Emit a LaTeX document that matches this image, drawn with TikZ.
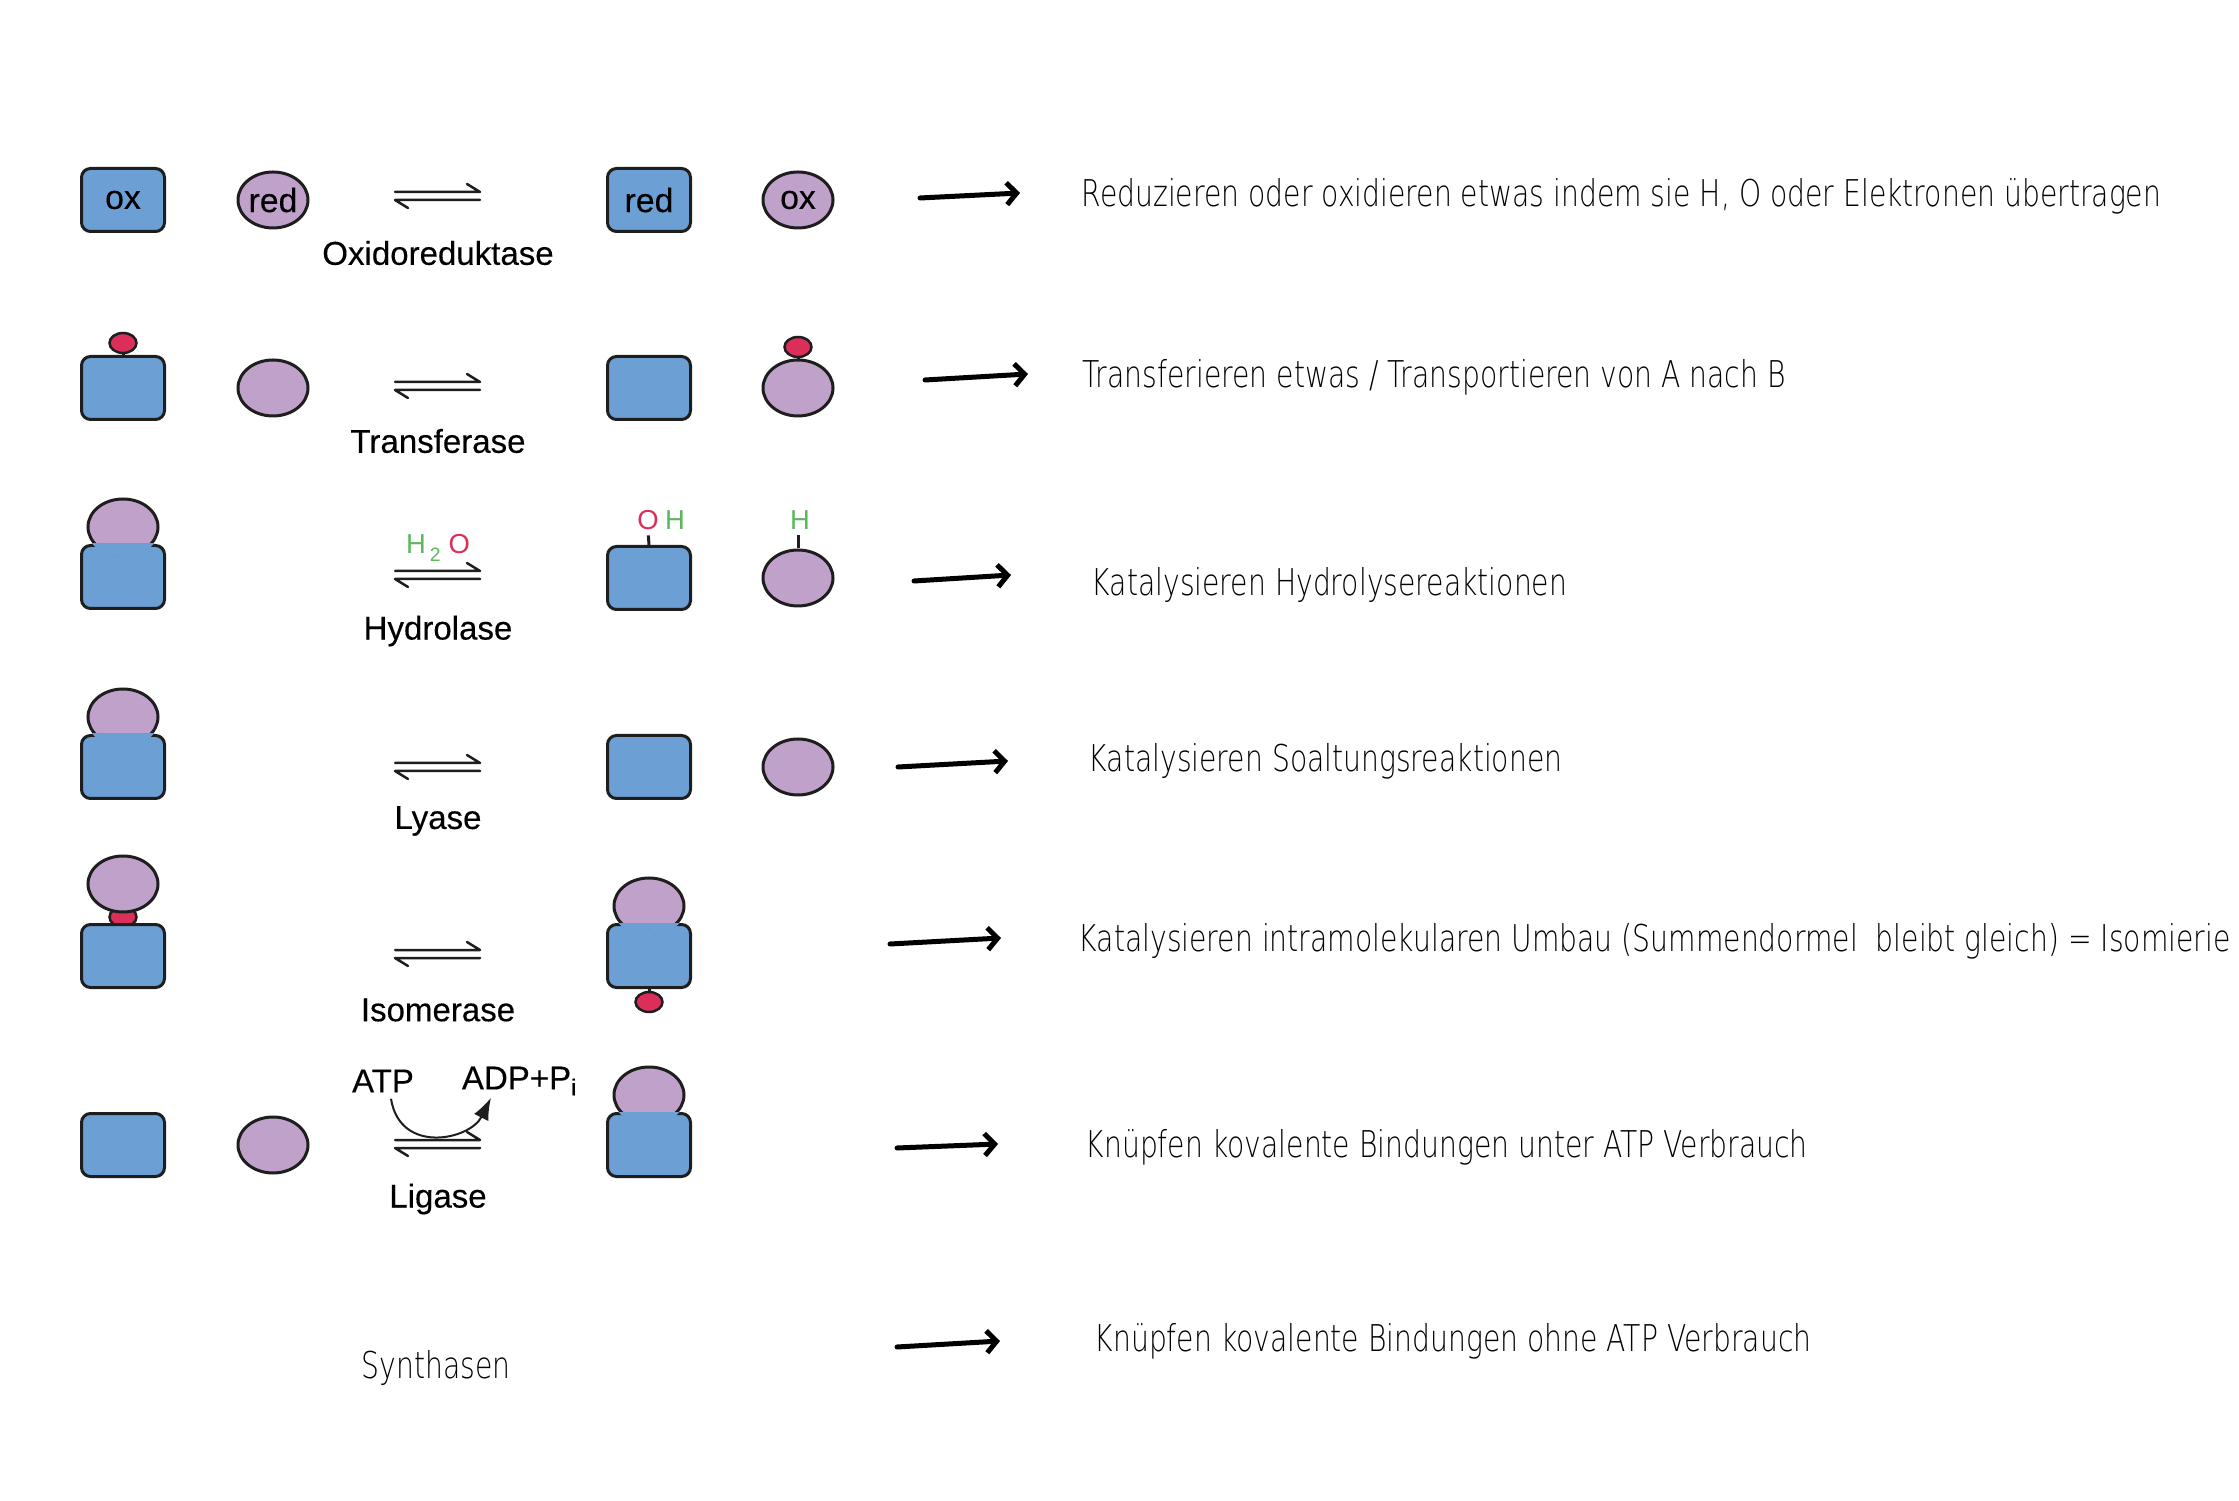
\documentclass[tikz,border=0pt]{standalone}
\usepackage{fontspec}
\setmainfont{Liberation Sans}
\newfontfamily\descfont{DejaVu Sans ExtraLight}[FakeStretch=0.765]
\newfontfamily\labelfont{Liberation Sans}[FakeBold=0.3]
\usetikzlibrary{shapes.geometric,arrows.meta,positioning,calc}
\definecolor{boxblue}{HTML}{6C9FD3}
\definecolor{subpurple}{HTML}{C0A1CA}
\definecolor{grpred}{HTML}{DB2F5A}
\definecolor{hgreen}{HTML}{5CB85C}
\definecolor{edge}{HTML}{1E1E1E}
\tikzset{x=0.1mm, y=-0.1mm,
  enzbox/.style={draw=edge, line width=0.3mm, fill=boxblue, rounded corners=0.9mm,
    minimum width=8.3mm, minimum height=6.3mm, inner sep=0pt, font=\labelfont\fontsize{9.6}{11}\selectfont},
  substrate/.style={ellipse, draw=edge, line width=0.3mm, fill=subpurple,
    minimum width=7mm, minimum height=5.6mm, inner sep=0pt, font=\labelfont\fontsize{9.6}{11}\selectfont},
  group/.style={ellipse, draw=edge, line width=0.25mm, fill=grpred,
    minimum width=2.7mm, minimum height=2mm, inner sep=0pt},
  stem/.style={draw=edge, line width=0.3mm},
  enzlabel/.style={font=\labelfont\fontsize{9.4}{11}\selectfont},
  grouplabel/.style={inner sep=0pt, font=\fontsize{7.8}{9}\selectfont},
  desctext/.style={anchor=west, inner sep=0pt, font=\descfont\fontsize{10.5}{12}\selectfont},
  descarrow/.style={line width=0.5mm, line cap=round, -{Straight Barb[length=1mm,width=2.2mm]}},
  equil/.pic={
    \draw[edge, line width=0.25mm, line cap=round, line join=round] (-43,-4) -- (42,-4) -- (29,-12);
    \draw[edge, line width=0.25mm, line cap=round, line join=round] (42,4) -- (-43,4) -- (-30,12);
  }
}
% blue over the place where a ball sits on a box
\newcommand{\joinpatch}[2]{%
  \begin{scope}
    \clip (#1.north west) rectangle (#1.south east);
    \fill[boxblue] (#2.center) ellipse [x radius=37, y radius=30];
  \end{scope}}

\begin{document}
\begin{tikzpicture}
\useasboundingbox (0,0) rectangle (2239,1501);

% Oxidoreduktase
\node[enzbox] (ox1) at (123,200) {ox};
\node[substrate] (red1) at (273,200) {red};
\pic at (438,196) {equil};
\node[enzlabel] (oxl) at (438,253) {Oxidoreduktase};
\node[enzbox] (red2) at (649,200) {red};
\node[substrate] (ox2) at (798,200) {ox};

% Transferase
\coordinate (tg1) at (123,343);
\draw[stem] (tg1) -- (123,360);
\node[group] (g1) at (tg1) {};
\node[enzbox] (tb1) at (123,388) {};
\node[substrate] (ts1) at (273,388) {};
\pic at (438,386) {equil};
\node[enzlabel] (trl) at (438,441) {Transferase};
\node[enzbox] (tb2) at (649,388) {};
\draw[stem] (798,347) -- (798,365);
\node[substrate] (ts2) at (798,388) {};
\node[group] (g2) at (798,347) {};

% Hydrolase
\node[enzbox] (hb1) at (123,577) {};
\node[substrate] (hs1) at (123,527) {};
\joinpatch{hb1}{hs1}
\pic at (438,575) {equil};
\node[grouplabel] (water) at (438,548)
  {{\color{hgreen}H\kern0.4mm\raisebox{-0.8mm}{\fontsize{5.5}{6}\selectfont 2}}\kern0.8mm{\color{grpred}O}};
\node[enzlabel] (hyl) at (438,631) {Hydrolase};
\node[enzbox] (hb2) at (649,578) {};
\node[substrate] (hs2) at (798,578) {};
\node[grouplabel, text=grpred] (o3) at (648,520) {O};
\node[grouplabel, text=hgreen] (h3) at (675,520) {H};
\node[grouplabel, text=hgreen] (h4) at (800,520) {H};
\draw[stem, shorten <=0.5mm] (o3.south) -- (hb2.north);
\draw[stem, shorten <=0.5mm] (h4.south -| hs2.north) -- (hs2.north);

% Lyase
\node[enzbox] (lb1) at (123,767) {};
\node[substrate] (ls1) at (123,717) {};
\joinpatch{lb1}{ls1}
\pic at (438,767) {equil};
\node[enzlabel] (lyl) at (438,821) {Lyase};
\node[enzbox] (lb2) at (649,767) {};
\node[substrate] (ls2) at (798,767) {};

% Isomerase
\node[group] (g3) at (123,917) {};
\node[substrate] (is1) at (123,884) {};
\node[enzbox] (ib1) at (123,956) {};
\pic at (438,954) {equil};
\node[enzlabel] (isl) at (438,1010) {Isomerase};
\node[enzbox] (ib2) at (649,956) {};
\node[substrate] (is2) at (649,906) {};
\joinpatch{ib2}{is2}
\draw[stem] (ib2.south) -- (649,1000);
\node[group] (g4) at (649,1002) {};

% Ligase
\node[enzbox] (gb1) at (123,1145) {};
\node[substrate] (gs1) at (273,1145) {};
\pic at (438,1144) {equil};
\node[enzlabel] (atp) at (383,1081) {ATP};
\node[enzlabel] (adp) at (520,1081) {ADP+P\textsubscript{i}};
\draw[edge, line width=0.2mm, -{Latex[length=2.2mm,width=1.6mm]}]
  ($(atp.south)+(8,-6)$) .. controls (400,1155) and (470,1140) .. ($(adp.south)+(-29,-10)$);
\node[enzlabel] (lil) at (438,1199) {Ligase};
\node[enzbox] (gb2) at (649,1145) {};
\node[substrate] (gs2) at (649,1095) {};
\joinpatch{gb2}{gs2}

% Synthasen
\node[desctext, anchor=center] (syl) at (436,1368) {Synthasen};

% descriptions
\node[desctext] (d1) at (1081,196) {Reduzieren oder oxidieren etwas indem sie H, O oder Elektronen übertragen};
\node[desctext] (d2) at (1082,377) {Transferieren etwas / Transportieren von A nach B};
\node[desctext] (d3) at (1091,585) {Katalysieren Hydrolysereaktionen};
\node[desctext] (d4) at (1088,761) {Katalysieren Soaltungsreaktionen};
\node[desctext] (d5) at (1078,941) {Katalysieren intramolekularen Umbau (Summendormel\ \ bleibt gleich) = Isomierie};
\node[desctext] (d6) at (1085,1147) {Knüpfen kovalente Bindungen unter ATP Verbrauch};
\node[desctext] (d7) at (1094,1341) {Knüpfen kovalente Bindungen ohne ATP Verbrauch};

\coordinate (s1) at (920,198);  \coordinate (e1) at (1020,193);
\coordinate (s2) at (925,380);  \coordinate (e2) at (1028,374);
\coordinate (s3) at (914,581);  \coordinate (e3) at (1011,575);
\coordinate (s4) at (898,767);  \coordinate (e4) at (1008,761);
\coordinate (s5) at (890,944);  \coordinate (e5) at (1001,938);
\coordinate (s6) at (897,1148); \coordinate (e6) at (998,1144);
\coordinate (s7) at (897,1347); \coordinate (e7) at (1000,1341);
\foreach \i in {1,...,7}
  \draw[descarrow] (s\i) -- (e\i);
\end{tikzpicture}
\end{document}
